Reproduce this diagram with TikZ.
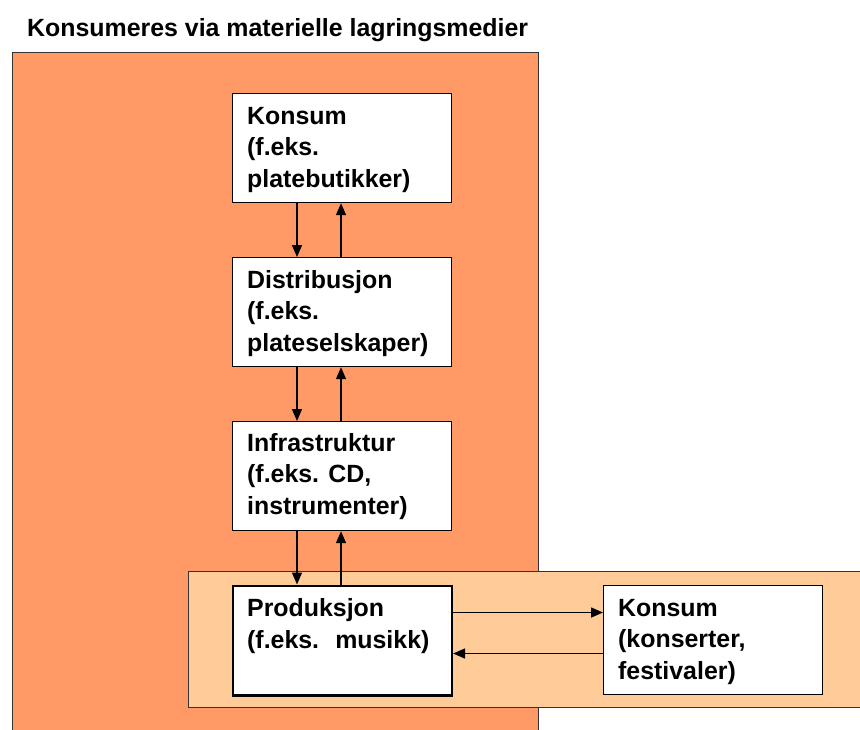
\documentclass[tikz,border=0pt]{standalone}
\usepackage{fontspec}
\setmainfont{Liberation Sans}
\usetikzlibrary{arrows.meta,calc}
\definecolor{outerorange}{HTML}{FF9966}
\definecolor{innerpeach}{HTML}{FFCC99}
\definecolor{edgegray}{HTML}{333333}
\tikzset{
  box/.style={draw=black, fill=white, line width=1.2pt, minimum width=219pt,
    minimum height=109pt, inner sep=0pt, anchor=north west},
  thickbox/.style={box, line width=2.6pt},
  txt/.style={font=\bfseries\fontsize{24.9}{31.5}\selectfont, align=left,
    inner sep=0pt, anchor=base west},
  arr/.style={line width=1.6pt, -{Triangle[length=12pt,width=10pt]}},
  region/.style={draw=edgegray, line width=1pt}
}
\begin{document}
\begin{tikzpicture}[x=1pt,y=-1pt]
\fill[white] (0,0) rectangle (860,729);
\path[use as bounding box] (0,0) rectangle (860,729);
\clip (0,0) rectangle (860,729);

\node[txt] (title) at (27,36) {Konsumeres via materielle lagringsmedier};

\path[region, fill=outerorange] (12,52) rectangle (538,745);
\path[region, fill=innerpeach] (188,571) rectangle (875,707);

\node[box] (k1) at (231.5,93) {};
\node[box] (d1) at (231.5,257) {};
\node[box] (i1) at (231.5,421) {};
\node[thickbox, minimum height=109.5pt] (p1) at (231.5,584.5) {};
\node[box, minimum height=109.5pt] (k2) at (603,584.5) {};

% base anchor = baseline of the last line
\node[txt] (k1t) at (247,187) {Konsum\\(f.eks.\\platebutikker)};
\node[txt] (d1t) at (247,351) {Distribusjon\\(f.eks.\\plateselskaper)};
\node[txt] (i1t) at (247,514) {Infrastruktur\\(f.eks. CD,\\instrumenter)};
\node[txt] (p1t) at (247,648) {Produksjon\\(f.eks.~ musikk)};
\node[txt] (k2t) at (618,679) {Konsum\\(konserter,\\festivaler)};

\draw[arr] ([xshift=65.5pt]k1.south west) -- ([xshift=65.5pt]d1.north west);
\draw[arr] ([xshift=109.5pt]d1.north west) -- ([xshift=109.5pt]k1.south west);
\draw[arr] ([xshift=65.5pt]d1.south west) -- ([xshift=65.5pt]i1.north west);
\draw[arr] ([xshift=109.5pt]i1.north west) -- ([xshift=109.5pt]d1.south west);
\draw[arr] ([xshift=65.5pt]i1.south west) -- ([xshift=65.5pt]p1.north west);
\draw[arr] ([xshift=109.5pt]p1.north west) -- ([xshift=109.5pt]i1.south west);

\draw[arr] ([yshift=-28pt]p1.north east) -- ([yshift=-28pt]k2.north west);
\draw[arr] ([yshift=-69pt]k2.north west) -- ([yshift=-69pt]p1.north east);
\end{tikzpicture}
\end{document}
